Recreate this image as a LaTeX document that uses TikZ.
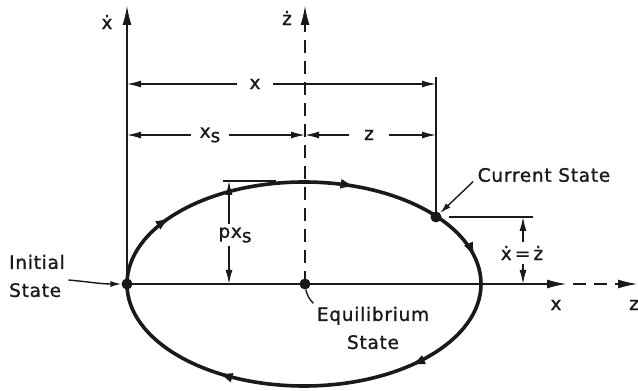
\documentclass[tikz,border=0pt]{standalone}
\usepackage{fontspec}
\newfontfamily\phfont{DejaVu Sans}[LetterSpace=4,FakeBold=1.2]
\usetikzlibrary{arrows.meta,decorations.markings}
\definecolor{phInk}{HTML}{1A1A1A}
\newcommand{\lowsub}[1]{\raisebox{-0.45ex}{#1}}
\tikzset{
  ph axis/.style={draw=phInk, line width=2pt},
  ph dashed axis/.style={draw=phInk, line width=2pt, dash pattern=on 13pt off 8pt},
  ph tip/.style={-{Latex[length=20pt,width=9pt]}},
  ph orbit/.style={draw=phInk, line width=3.6pt},
  ph dim/.style={draw=phInk, line width=1.4pt},
  ph dim tip/.style={-{Latex[length=14pt,width=7pt]}},
  ph lead tip/.style={-{Latex[length=11pt,width=6pt]}},
  ph dot/.style={circle, fill=phInk, minimum size=11pt, inner sep=0pt},
  ph label/.style={font=\phfont\fontsize{18.5}{28}\selectfont, text=phInk},
  ph gap/.style={ph label, inner xsep=12pt, inner ysep=2pt},
}

\begin{document}
\begin{tikzpicture}[x=1pt,y=1pt]
\useasboundingbox (0,0) rectangle (638,391);
\coordinate (O) at (304,107);
\draw[ph orbit, postaction={decorate}, decoration={markings,
  mark=at position 0.093 with {\arrow{Latex[length=15pt,width=10pt]}},
  mark=at position 0.308 with {\arrow{Latex[length=15pt,width=10pt]}},
  mark=at position 0.469 with {\arrow{Latex[length=15pt,width=10pt]}},
  mark=at position 0.628 with {\arrow{Latex[length=15pt,width=10pt]}},
  mark=at position 0.848 with {\arrow{Latex[length=15pt,width=10pt]}}}]
  (127,107) arc[start angle=180, end angle=-180, x radius=177, y radius=102];
\node[ph dot] (init) at (127,107) {};
\node[ph dot] (eq) at (305,107) {};
\node[ph dot] (cur) at (436,174) {};
\coordinate (xdtop) at (127,386);
\coordinate (zdtop) at (305,386);
\coordinate (xend) at (567,107);
\coordinate (zstart) at (573,107);
\coordinate (zend) at (638,107);
\draw[ph axis, ph tip] (init.center) -- (xdtop);
\draw[ph dashed axis, ph tip] (eq.center) -- (zdtop);
\draw[ph axis, ph tip] (init.center) -- (xend);
\draw[ph dashed axis, ph tip] (zstart) -- (zend);
\node[ph label] (xdlab) at (107,369) {ẋ};
\node[ph label] (zdlab) at (287,373) {ż};
\node[ph label] (xlab) at (556,86) {x};
\node[ph label] (zlab) at (634,86) {z};
\coordinate (curtop) at (436,314);
\draw[ph dim] (cur.center) -- (curtop);
\coordinate (xdl) at (127,307);
\coordinate (xdr) at (436,307);
\node[ph gap] (xdim) at (255,307) {x};
\draw[ph dim, ph dim tip] (xdim) -- (xdl);
\draw[ph dim, ph dim tip] (xdim) -- (xdr);
\coordinate (xsl) at (127,256);
\coordinate (xsr) at (305,256);
\coordinate (zr) at (436,256);
\node[ph gap, inner xsep=9pt] (xsdim) at (210,256) {x\lowsub{s}};
\node[ph gap, inner xsep=15pt] (zdim) at (369,256) {z};
\draw[ph dim, ph dim tip] (xsdim) -- (xsl);
\draw[ph dim, ph dim tip] (xsdim) -- (xsr);
\draw[ph dim, ph dim tip] (zdim) -- (xsr);
\draw[ph dim, ph dim tip] (zdim) -- (zr);
\coordinate (pxl) at (223,210);
\coordinate (pxr) at (276,210);
\coordinate (pxtop) at (229,210);
\coordinate (pxbot) at (229,107);
\draw[ph dim] (pxl) -- (pxr);
\node[ph label] (pxs) at (235,156) {px\lowsub{s}};
\draw[ph dim, ph dim tip] (pxs.north -| pxtop) -- (pxtop);
\draw[ph dim, ph dim tip] (pxs.south -| pxbot) -- (pxbot);
\coordinate (vl) at (449,174);
\coordinate (vr) at (533,174);
\coordinate (vtop) at (523,174);
\coordinate (vbot) at (523,107);
\draw[ph dim] (vl) -- (vr);
\node[ph label] (vlab) at (522,138) {ẋ\,=\,ż};
\draw[ph dim, ph dim tip] (vlab.north -| vtop) -- (vtop);
\draw[ph dim, ph dim tip] (vlab.south -| vbot) -- (vbot);
\node[ph label] (curlab) at (544,216) {Current State};
\draw[ph dim, ph lead tip] ([xshift=-1pt,yshift=4pt]curlab.south west) -- (cur);
\node[ph label, align=left] (initlab) at (37,115) {Initial\\State};
\draw[ph dim, ph lead tip] ([yshift=-4pt]initlab.east) to[out=-5,in=180] (init);
\node[ph label, align=center] (eqlab) at (373,63) {Equilibrium\\State};
\draw[ph dim] (eq) to[bend right=15] (eqlab.north west);
\end{tikzpicture}
\end{document}
